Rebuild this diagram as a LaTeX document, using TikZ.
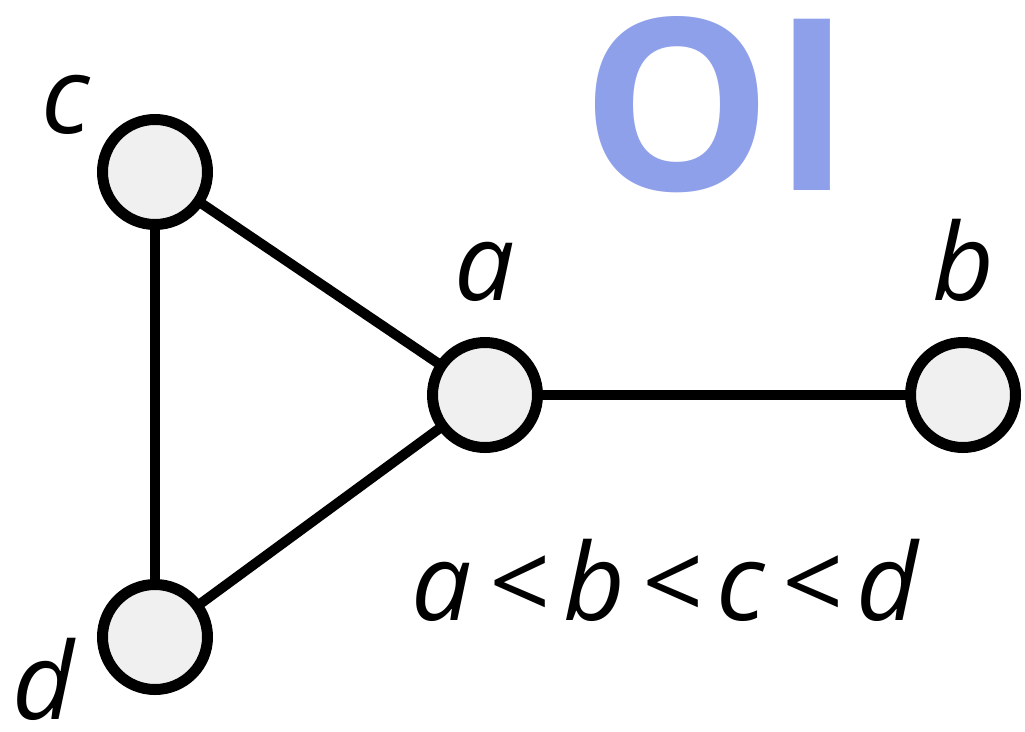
\documentclass[tikz,border=0pt]{standalone}
\usepackage{fontspec}
\setmainfont{Open Sans}
\usetikzlibrary{backgrounds}
\definecolor{oiblue}{HTML}{8FA0EA}
\definecolor{nodefill}{HTML}{F0F0F0}
\begin{document}
\begin{tikzpicture}[x=1pt,y=-1pt,
  vtx/.style={circle,draw=black,fill=nodefill,line width=11pt,minimum size=105pt,inner sep=0pt},
  edge/.style={line width=10pt,black},
  lbl/.style={inner sep=0pt,anchor=base,font=\fontsize{107}{120}\selectfont\itshape}]
\useasboundingbox (0,0) rectangle (1025,731);
\node[vtx] (c) at (155,172) {};
\node[vtx] (a) at (485,395) {};
\node[vtx] (b) at (963,395) {};
\node[vtx] (d) at (155,637) {};
\begin{scope}[on background layer]
\draw[edge] (c.center) -- (a.center);
\draw[edge] (c.center) -- (d.center);
\draw[edge] (d.center) -- (a.center);
\draw[edge] (a.center) -- (b.center);
\end{scope}
\node[lbl] (lc) at (66,133) {c};
\node[lbl] (la) at (485,300) {a};
\node[lbl] (lb) at (963,300) {b};
\node[lbl] (ld) at (43,719) {d};
\node[lbl] (ord) at (665,620) {a\hspace{15pt}<\hspace{15pt}b\hspace{15pt}<\hspace{15pt}c\hspace{15pt}<\hspace{15pt}d};
\node[inner sep=0pt,anchor=base,text=oiblue,font=\fontsize{240}{260}\selectfont\bfseries] (oi) at (717,190) {OI};
\end{tikzpicture}
\end{document}
